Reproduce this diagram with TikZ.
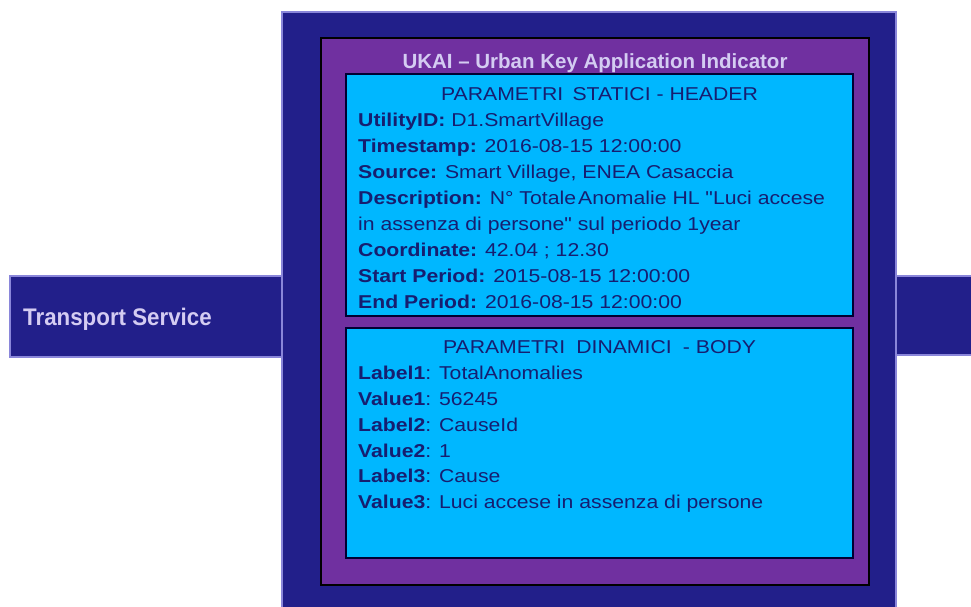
\documentclass[tikz,border=0pt]{standalone}
\usepackage{fontspec}
\setmainfont{Liberation Sans}
\newfontfamily\boxfont[FakeStretch=1.14]{Liberation Sans}
\newfontfamily\barfont[FakeStretch=0.93]{Liberation Sans}

\definecolor{navyfill}{RGB}{34,31,138}
\definecolor{lavline}{RGB}{138,134,218}
\definecolor{purplefill}{RGB}{112,48,160}
\definecolor{cyanfill}{RGB}{0,183,255}
\definecolor{inktext}{RGB}{22,30,112}
\definecolor{palelabel}{RGB}{212,204,242}

\tikzset{
  navybox/.style={fill=navyfill, draw=lavline, line width=2pt},
  purplebox/.style={fill=purplefill, draw=black, line width=1.3pt},
  cyanbox/.style={fill=cyanfill, draw=black!80!blue, line width=1.3pt},
  bartext/.style={inner sep=0pt, text=palelabel, font=\barfont\fontsize{24}{28}\selectfont\bfseries},
  titletext/.style={inner sep=0pt, text=palelabel, font=\fontsize{20.5}{24}\selectfont\bfseries},
  headtext/.style={inner sep=0pt, text=inktext, font=\boxfont\fontsize{18.6}{22}\selectfont},
  linetext/.style={inner sep=0pt, anchor=base west, text=inktext, font=\boxfont\fontsize{18.6}{22}\selectfont}
}

\begin{document}
\begin{tikzpicture}[x=1pt,y=-1pt]
\clip (0,0) rectangle (971,606);
\fill[white] (0,0) rectangle (971,606);

% side bars behind the main frame
\draw[navybox] (10,276) rectangle (282,357);
\draw[navybox] (896,276) rectangle (990,355);
\node[bartext, anchor=base west] (transport) at (23,325) {Transport Service};

% main frame and indicator panel
\draw[navybox] (282,12) rectangle (896,630);
\draw[purplebox] (321,38) rectangle (869,585);
\node[titletext, anchor=base] (ukai) at (595,68) {UKAI -- Urban Key Application Indicator};

% static header block
\draw[cyanbox] (346,74) rectangle (853,316);
\node[headtext, anchor=base] (hdr) at (599.5,100) {PARAMETRI\hspace{0.5em}STATICI - HEADER};
\node[linetext] (h1) at (358,126) {\textbf{UtilityID:} D1.SmartVillage};
\node[linetext] (h2) at (358,152) {\textbf{Timestamp:} 2016-08-15 12:00:00};
\node[linetext] (h3) at (358,178) {\textbf{Source:} Smart Village, ENEA Casaccia};
\node[linetext] (h4) at (358,204) {\textbf{Description:} N° Totale\hspace{0.12em}Anomalie HL "Luci accese};
\node[linetext] (h5) at (358,230) {in assenza di persone" sul periodo 1year};
\node[linetext] (h6) at (358,256) {\textbf{Coordinate:} 42.04 ; 12.30};
\node[linetext] (h7) at (358,282) {\textbf{Start Period:} 2015-08-15 12:00:00};
\node[linetext] (h8) at (358,308) {\textbf{End Period:} 2016-08-15 12:00:00};

% dynamic body block
\draw[cyanbox] (346,328) rectangle (853,558);
\node[headtext, anchor=base] (bdy) at (599.5,353) {PARAMETRI\hspace{0.6em}DINAMICI\hspace{0.6em}- BODY};
\node[linetext] (b1) at (358,379) {\textbf{Label1}: TotalAnomalies};
\node[linetext] (b2) at (358,405) {\textbf{Value1}: 56245};
\node[linetext] (b3) at (358,431) {\textbf{Label2}: CauseId};
\node[linetext] (b4) at (358,457) {\textbf{Value2}: 1};
\node[linetext] (b5) at (358,482) {\textbf{Label3}: Cause};
\node[linetext] (b6) at (358,508) {\textbf{Value3}: Luci accese in assenza di persone};
\end{tikzpicture}
\end{document}
